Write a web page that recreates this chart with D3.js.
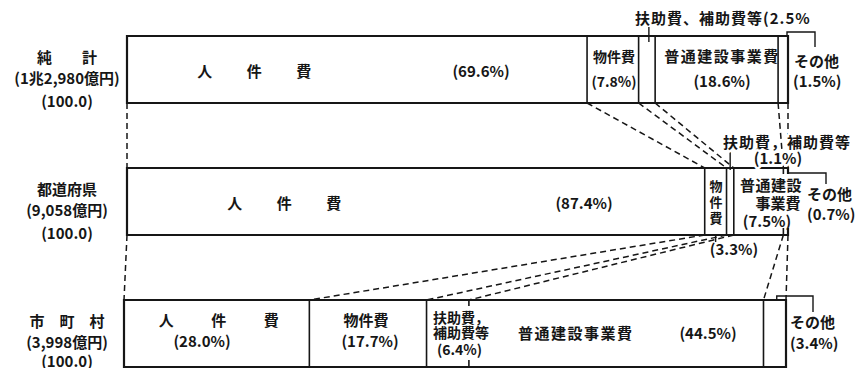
<!DOCTYPE html>
<html><head><meta charset="utf-8">
<script src="https://cdn.jsdelivr.net/npm/d3@7"></script>
<style>
body{margin:0;background:#fff}
svg{display:block}
text{font-family:"Noto Sans CJK JP","Noto Sans",sans-serif;fill:#161616;font-weight:700;font-size:15px}
text.halo{stroke:#fff;stroke-width:5px;paint-order:stroke;stroke-linejoin:round}
</style>
</head><body><svg id="c" width="860" height="368"></svg>
<script>
// ---- data ----
const categories = ["人件費", "物件費", "扶助費、補助費等", "普通建設事業費", "その他"];
const rowNames = ["純　　計", "都道府県", "市　町　村"];
const rowTotals = ["(1兆2,980億円)", "(9,058億円)", "(3,998億円)"];
const rowIndexLabels = ["(100.0)", "(100.0)", "(100.0)"];
const valuesJunkei = [69.6, 7.8, 2.5, 18.6, 1.5];
const valuesTodofuken = [87.4, 3.3, 1.1, 7.5, 0.7];
const valuesShichoson = [28.0, 17.7, 6.4, 44.5, 3.4];

// ---- layout ----
const rows = [valuesJunkei, valuesTodofuken, valuesShichoson];
const svg = d3.select("#c");
const yTop = d3.scalePoint().domain([0, 1, 2]).range([36, 300]);
const barH = 67;
const xs = [[127, 788], [127, 788], [124, 786]].map(r => d3.scaleLinear().domain([0, 100]).range(r));
const cums = rows.map(v => { const c = [0]; v.forEach(d => c.push(+(c[c.length - 1] + d).toFixed(1))); return c; });
const fmt = v => `(${v.toFixed(1)}%)`;
const mid = (r, i) => xs[r]((cums[r][i] + cums[r][i + 1]) / 2);
const INK = "#161616";

// connectors
const conn = svg.append("g").attr("stroke", INK).attr("stroke-width", 1.5)
  .attr("stroke-dasharray", "6,4").attr("fill", "none");
for (let r = 0; r < 2; r++) {
  cums[r].forEach((c, k) => {
    conn.append("line")
      .attr("x1", xs[r](c)).attr("y1", yTop(r) + barH)
      .attr("x2", xs[r + 1](cums[r + 1][k])).attr("y2", yTop(r + 1));
  });
}

// which boundaries are drawn only as short ticks (text runs across them)
const tickOnly = {"2-3": true, "1-4": true, "1-5": true};

// bars
rows.forEach((vals, r) => {
  const g = svg.append("g");
  const t = yTop(r);
  const x0 = xs[r](0), x1 = xs[r](100);
  g.append("rect").attr("x", x0).attr("y", t).attr("width", x1 - x0).attr("height", barH)
    .attr("fill", "#fff").attr("stroke", "none");
  g.append("path").attr("d", `M${x1},${t}H${x0}V${t + barH}H${x1}`)
    .attr("fill", "none").attr("stroke", INK).attr("stroke-width", 2.2);
  for (let k = 1; k < cums[r].length; k++) {
    const x = xs[r](cums[r][k]);
    const w = k === cums[r].length - 1 ? 2.2 : 1.6;
    if (tickOnly[r + "-" + k]) {
      g.append("line").attr("x1", x).attr("x2", x).attr("y1", t - 1).attr("y2", t + 6).attr("stroke", INK).attr("stroke-width", w);
      g.append("line").attr("x1", x).attr("x2", x).attr("y1", t + barH - 7).attr("y2", t + barH + 1).attr("stroke", INK).attr("stroke-width", w);
    } else {
      g.append("line").attr("x1", x).attr("x2", x).attr("y1", t - 1).attr("y2", t + barH + 1).attr("stroke", INK).attr("stroke-width", w);
    }
  }
});

// leaders
const ld = svg.append("g").attr("stroke", INK).attr("stroke-width", 1.4).attr("fill", "none");
ld.append("path").attr("d", `M${mid(0,2)+2},${yTop(0)-9}V${yTop(0)+6}`);
ld.append("path").attr("d", `M${xs[0](100)-1},${yTop(0)}V${yTop(0)-4}H815V${yTop(0)+11}`);
ld.append("path").attr("d", `M${mid(1,2)},${yTop(1)-18}V${yTop(1)+2}`);
ld.append("path").attr("d", `M${xs[1](100)},${yTop(1)+5}H826V${yTop(1)+16}`);
ld.append("path").attr("d", `M${mid(1,1)},${yTop(1)+barH}V${yTop(1)+barH+7}`);
ld.append("path").attr("d", `M${mid(2,4)+2},${yTop(2)}V${yTop(2)-4}H813V${yTop(2)+12}`);

// left labels
rows.forEach((v, r) => {
  const t = yTop(r);
  [[rowNames[r], 27], [rowTotals[r], 48], [rowIndexLabels[r], r === 2 ? 67 : 71]].forEach(([s, dy]) => {
    svg.append("text").attr("x", 67).attr("y", t + dy).attr("text-anchor", "middle").text(s);
  });
});

// inside / outside labels
const labels = [
  // row 1
  {x: 255, y: 77, t: "人　　件　　費", ls: 1.5},
  {x: 481, y: 77, t: fmt(valuesJunkei[0])},
  {x: 614, y: 62, t: categories[1], fs: 14},
  {x: 614, y: 87, t: fmt(valuesJunkei[1]), fs: 14},
  {x: 722, y: 62, t: categories[3], ls: 1.5},
  {x: 722, y: 87, t: fmt(valuesJunkei[3])},
  {x: 635, y: 24, t: categories[2] + "(" + valuesJunkei[2].toFixed(1) + "%", a: "start", ls: 1},
  {x: 794, y: 67, t: categories[4], a: "start"},
  {x: 793, y: 87, t: fmt(valuesJunkei[4]), a: "start"},
  // row 2
  {x: 285, y: 209, t: "人　　件　　費", ls: 1.5},
  {x: 584, y: 209, t: fmt(valuesTodofuken[0])},
  {x: 716, y: 191, t: "物", fs: 13}, {x: 716, y: 207, t: "件", fs: 13}, {x: 716, y: 223, t: "費", fs: 13},
  {x: 771, y: 191, t: "普通建設", ls: 0.5},
  {x: 778, y: 209, t: "事業費"},
  {x: 767, y: 227, t: fmt(valuesTodofuken[3])},
  {x: 723, y: 148, t: "扶助費，補助費等", a: "start", ls: 1, halo: true},
  {x: 778, y: 164, t: fmt(valuesTodofuken[2]), halo: true},
  {x: 807, y: 200, t: categories[4], a: "start"},
  {x: 807, y: 220, t: fmt(valuesTodofuken[4]), a: "start"},
  {x: 734, y: 255, t: fmt(valuesTodofuken[1])},
  // row 3
  {x: 220, y: 326, t: "人　　件　　費", ls: 2.5},
  {x: 202, y: 347, t: fmt(valuesShichoson[0])},
  {x: 366, y: 326, t: categories[1]},
  {x: 370, y: 347, t: fmt(valuesShichoson[1])},
  {x: 433, y: 323, t: "扶助費，", a: "start", fs: 14},
  {x: 433, y: 338, t: "補助費等", a: "start", fs: 14},
  {x: 437, y: 355, t: fmt(valuesShichoson[2]), a: "start", fs: 14},
  {x: 518, y: 339, t: categories[3], a: "start", ls: 1.5},
  {x: 708, y: 339, t: fmt(valuesShichoson[3])},
  {x: 790, y: 328, t: categories[4], a: "start"},
  {x: 790, y: 349, t: fmt(valuesShichoson[4]), a: "start"}
];
svg.append("g").selectAll("text").data(labels).join("text")
  .attr("class", d => d.halo ? "halo" : null)
  .attr("x", d => d.x).attr("y", d => d.y)
  .attr("text-anchor", d => d.a || "middle")
  .style("letter-spacing", d => (d.ls || 0) + "px")
  .style("font-size", d => (d.fs || 15) + "px")
  .text(d => d.t);
</script>
</body></html>
